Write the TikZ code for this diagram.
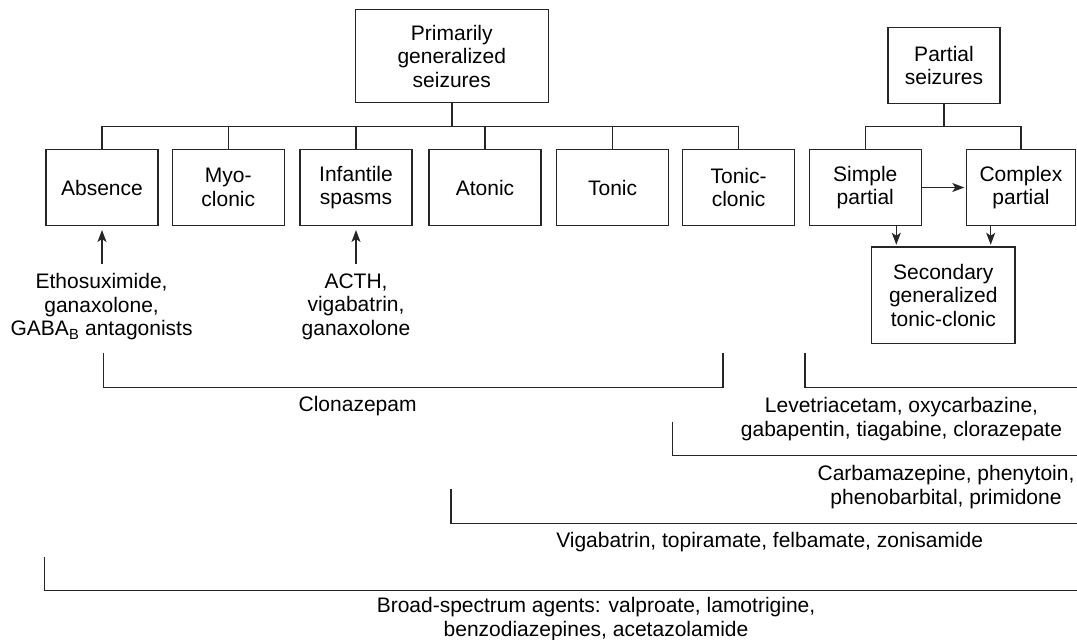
\documentclass[tikz,border=0pt]{standalone}
\usepackage{fontspec}
\setmainfont{Liberation Sans}
\usetikzlibrary{arrows.meta}
\begin{document}
\begin{tikzpicture}[x=1pt,y=-1pt,
  font=\fontsize{21}{23.5}\selectfont,
  box/.style={draw=black!85, line width=1.4pt, minimum width=112pt, minimum height=75.6pt, align=center, inner sep=0pt},
  lbl/.style={align=center, inner sep=0pt, anchor=north},
  conn/.style={draw=black!85, line width=1.4pt},
  arr/.style={conn, -{Stealth[length=12pt,width=9pt,inset=3pt]}}]
\useasboundingbox (0,0) rectangle (1077,640);

% generalized seizures
\node[box, minimum width=192.8pt, minimum height=93.4pt] (pg) at (451.8,56) {Primarily\\generalized\\seizures};
\node[box] (abs) at (102,187.5) {Absence};
\node[box] (myo) at (228.3,187.5) {Myo-\\clonic};
\node[box] (inf) at (356,187.5) {Infantile\\spasms};
\node[box] (ato) at (485,187.5) {Atonic};
\node[box] (ton) at (612.6,187.5) {Tonic};
\node[box] (tc)  at (738.6,187.5) {Tonic-\\clonic};

% partial seizures
\node[box] (ps) at (944,65.5) {Partial\\seizures};
\node[box] (sp) at (865.3,187.5) {Simple\\partial};
\node[box, minimum width=109pt] (cp) at (1021,187.5) {Complex\\partial};
\node[box, minimum width=143.5pt, minimum height=96.7pt] (sg) at (943.3,295.3) {Secondary\\generalized\\tonic-clonic};

\coordinate (busy) at (0,126.7);
\draw[conn] (abs.north) |- (tc.north |- busy) -- (tc.north);
\draw[conn] (pg.south) -- (pg.south |- busy);
\foreach \n in {myo,inf,ato,ton} \draw[conn] (\n.north) -- (\n.north |- busy);
\draw[conn] (sp.north) |- (cp.north |- busy) -- (cp.north);
\draw[conn] (ps.south) -- (ps.south |- busy);

\draw[arr, shorten >=1.5pt] (sp.east) -- (cp.west);
\draw[arr, shorten >=1.5pt] ([xshift=31pt]sp.south) -- ([xshift=31pt]sp.south |- sg.north);
\draw[arr, shorten >=1.5pt] ([xshift=-30.3pt]cp.south) -- ([xshift=-30.3pt]cp.south |- sg.north);

% drug labels
\node[lbl] (etho) at (101.6,273.5) {Ethosuximide,\\ganaxolone,\\GABA\textsubscript{B} antagonists};
\node[lbl] (acth) at (356,273.5) {ACTH,\\vigabatrin,\\ganaxolone};
\draw[arr, shorten <=10pt, shorten >=4pt] (abs.south |- etho.north) -- (abs.south);
\draw[arr, shorten <=10pt, shorten >=4pt] (inf.south |- acth.north) -- (inf.south);

\node[lbl] (clon) at (357.6,396.5) {Clonazepam};
\node[lbl] (leve) at (901.5,397.5) {Levetriacetam, oxycarbazine,\\gabapentin, tiagabine, clorazepate};
\node[lbl] (carb) at (946,465.2) {Carbamazepine, phenytoin,\\phenobarbital, primidone};
\node[lbl] (vig)  at (769.7,532.5) {Vigabatrin, topiramate, felbamate, zonisamide};
\node[lbl] (broad) at (596,597.5) {Broad-spectrum agents: valproate, lamotrigine,\\benzodiazepines, acetazolamide};

% brackets
\coordinate (c1a) at (103.3,353.3); \coordinate (c1b) at (103.3,387.3);
\coordinate (c1c) at (723,387.3);   \coordinate (c1d) at (723,353.3);
\draw[conn] (c1a) -- (c1b) -- (c1c) -- (c1d);

\coordinate (l1a) at (805,352.7); \coordinate (l1b) at (805,387.7); \coordinate (l1c) at (1077,387.7);
\draw[conn] (l1a) -- (l1b) -- (l1c);

\coordinate (k1a) at (672.5,421.7); \coordinate (k1b) at (672.5,455.7); \coordinate (k1c) at (1077,455.7);
\draw[conn] (k1a) -- (k1b) -- (k1c);

\coordinate (v1a) at (451,489); \coordinate (v1b) at (451,523.3); \coordinate (v1c) at (1077,523.3);
\draw[conn] (v1a) -- (v1b) -- (v1c);

\coordinate (b1a) at (44.4,556.7); \coordinate (b1b) at (44.4,590.7); \coordinate (b1c) at (1077,590.7);
\draw[conn] (b1a) -- (b1b) -- (b1c);
\end{tikzpicture}
\end{document}
